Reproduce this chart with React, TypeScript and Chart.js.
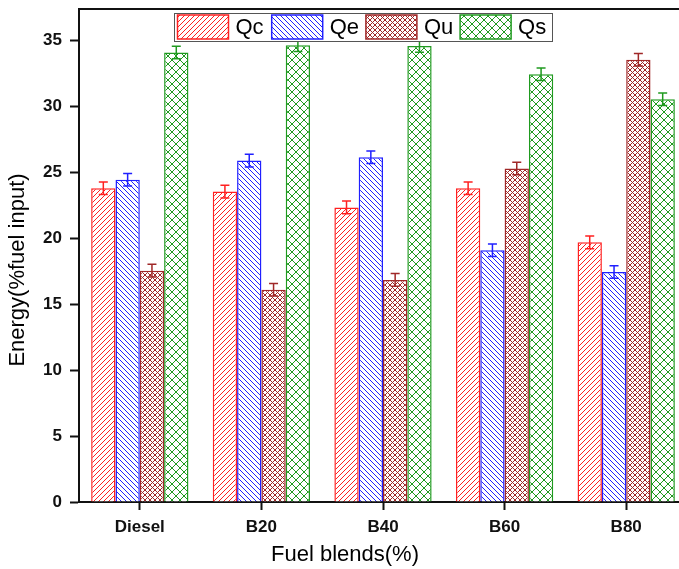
import React, { useEffect, useRef } from "react";
import { Chart, registerables } from "chart.js";

Chart.register(...registerables);

const categories = ["Diesel", "B20", "B40", "B60", "B80"];
const seriesNames = ["Qc", "Qe", "Qu", "Qs"];
const qcValues = [23.8, 23.55, 22.35, 23.8, 19.7];
const qeValues = [24.45, 25.9, 26.15, 19.1, 17.45];
const quValues = [17.55, 16.1, 16.85, 25.3, 33.55];
const qsValues = [34.1, 34.65, 34.6, 32.45, 30.55];
const qcErrors = [0.48, 0.48, 0.48, 0.48, 0.48];
const qeErrors = [0.48, 0.48, 0.48, 0.48, 0.48];
const quErrors = [0.48, 0.48, 0.48, 0.48, 0.48];
const qsErrors = [0.48, 0.48, 0.48, 0.48, 0.48];
const yMin = 0;
const yMax = 37.4;
const yStep = 5;
const xTitle = "Fuel blends(%)";
const yTitle = "Energy(%fuel input)";

const FONT = "'Liberation Sans', Arial, sans-serif";
const AXIS = "#111111";

const colors = ["#ff2020", "#2020ff", "#a02828", "#1f9a1f"];
const hatchKinds: { dirs: string[]; period: number }[] = [
  { dirs: ["/"], period: 5 },
  { dirs: ["\\"], period: 5 },
  { dirs: ["/", "\\"], period: 5 },
  { dirs: ["/", "\\"], period: 8 },
];

function makePattern(ctx: CanvasRenderingContext2D, color: string, kind: { dirs: string[]; period: number }) {
  const p = kind.period;
  const c = document.createElement("canvas");
  c.width = p;
  c.height = p;
  const g = c.getContext("2d")!;
  g.fillStyle = "#ffffff";
  g.fillRect(0, 0, p, p);
  g.fillStyle = color;
  for (const d of kind.dirs) {
    for (let i = 0; i < p; i++) {
      if (d === "/") g.fillRect(i, p - 1 - i, 1, 1);
      else g.fillRect(i, i, 1, 1);
    }
  }
  return ctx.createPattern(c, "repeat")!;
}

export default function App() {
  const ref = useRef<HTMLCanvasElement | null>(null);

  useEffect(() => {
    const canvas = ref.current!;
    const ctx = canvas.getContext("2d")!;
    const patterns = colors.map((c, i) => makePattern(ctx, c, hatchKinds[i]));
    const values = [qcValues, qeValues, quValues, qsValues];
    const errors = [qcErrors, qeErrors, quErrors, qsErrors];

    const errorBars = {
      id: "errorBars",
      afterDatasetsDraw(chart: any) {
        const c = chart.ctx;
        const ys = chart.scales.y;
        c.save();
        chart.data.datasets.forEach((ds: any, i: number) => {
          const meta = chart.getDatasetMeta(i);
          c.strokeStyle = colors[i];
          c.lineWidth = 1.5;
          meta.data.forEach((el: any, j: number) => {
            const v = ds.data[j];
            const e = errors[i][j];
            const top = ys.getPixelForValue(v + e);
            const bot = ys.getPixelForValue(v - e);
            const x = el.x;
            c.beginPath();
            c.moveTo(x, top);
            c.lineTo(x, bot);
            c.moveTo(x - 4.5, top);
            c.lineTo(x + 4.5, top);
            c.moveTo(x - 4.5, bot);
            c.lineTo(x + 4.5, bot);
            c.stroke();
          });
        });
        c.restore();
      },
    };

    const decorations = {
      id: "decorations",
      afterDraw(chart: any) {
        const c = chart.ctx;
        const a = chart.chartArea;
        c.save();
        c.strokeStyle = AXIS;
        c.lineWidth = 2;
        c.beginPath();
        c.moveTo(a.left - 1, a.top);
        c.lineTo(a.right + 2, a.top);
        c.stroke();

        const lx = 174, ly = 13, lw = 378, lh = 28;
        c.fillStyle = "#ffffff";
        c.fillRect(lx, ly, lw, lh);
        c.strokeStyle = "#555555";
        c.lineWidth = 1;
        c.strokeRect(lx + 0.5, ly + 0.5, lw, lh);
        c.font = `22px ${FONT}`;
        c.textBaseline = "middle";
        c.textAlign = "left";
        seriesNames.forEach((name, i) => {
          const sx = 177.5 + i * 94.2;
          const sy = 15;
          c.fillStyle = patterns[i];
          c.fillRect(sx, sy, 51, 24);
          c.strokeStyle = colors[i];
          c.lineWidth = 1.5;
          c.strokeRect(sx, sy, 51, 24);
          c.fillStyle = "#000000";
          c.fillText(name, sx + 58, sy + 13);
        });

        c.fillStyle = "#000000";
        c.font = `22px ${FONT}`;
        c.textAlign = "center";
        c.textBaseline = "middle";
        c.fillText(xTitle, 345, 555);
        c.save();
        c.translate(18, 270);
        c.rotate(-Math.PI / 2);
        c.fillText(yTitle, 0, 0);
        c.restore();
        c.restore();
      },
    };

    const chart = new Chart(canvas, {
      type: "bar",
      data: {
        labels: categories,
        datasets: seriesNames.map((name, i) => ({
          label: name,
          data: values[i],
          backgroundColor: patterns[i],
          borderColor: colors[i],
          borderWidth: 1.5,
          barPercentage: 1,
          categoryPercentage: 0.8,
        })),
      },
      options: {
        responsive: false,
        animation: false,
        devicePixelRatio: 1,
        layout: { padding: { top: 9, left: 0, right: 0, bottom: 0 } },
        plugins: { legend: { display: false }, tooltip: { enabled: false } },
        scales: {
          x: {
            type: "category",
            offset: true,
            grid: {
              display: true,
              drawOnChartArea: false,
              offset: false,
              tickLength: 8,
              tickWidth: 2,
              tickColor: AXIS,
            },
            border: { display: true, width: 2, color: AXIS },
            ticks: {
              font: { family: FONT, size: 17, weight: "bold" },
              color: "#111111",
              padding: 7,
              maxRotation: 0,
            },
            afterFit: (s: any) => {
              s.height = 67;
              s.paddingLeft = 0;
              s.paddingRight = 0;
            },
          },
          y: {
            min: yMin,
            max: yMax,
            grid: {
              display: true,
              drawOnChartArea: false,
              tickLength: 9,
              tickWidth: 2,
              tickColor: AXIS,
            },
            border: { display: true, width: 2, color: AXIS },
            ticks: {
              stepSize: yStep,
              font: { family: FONT, size: 17, weight: "bold" },
              color: "#111111",
              padding: 8,
            },
            afterBuildTicks: (s: any) => {
              s.ticks = s.ticks.filter((t: any) => Math.abs(t.value / yStep - Math.round(t.value / yStep)) < 1e-6);
            },
            afterFit: (s: any) => {
              s.width = 79;
              s.paddingTop = 0;
              s.paddingBottom = 0;
            },
          },
        },
      } as any,
      plugins: [errorBars, decorations],
    });
    return () => chart.destroy();
  }, []);

  return (
    <div style={{ position: "fixed", left: 0, top: 0, width: 679, height: 569, overflow: "hidden", background: "#fff" }}>
      <canvas ref={ref} width={687} height={569} style={{ width: 687, height: 569, display: "block" }} />
    </div>
  );
}
